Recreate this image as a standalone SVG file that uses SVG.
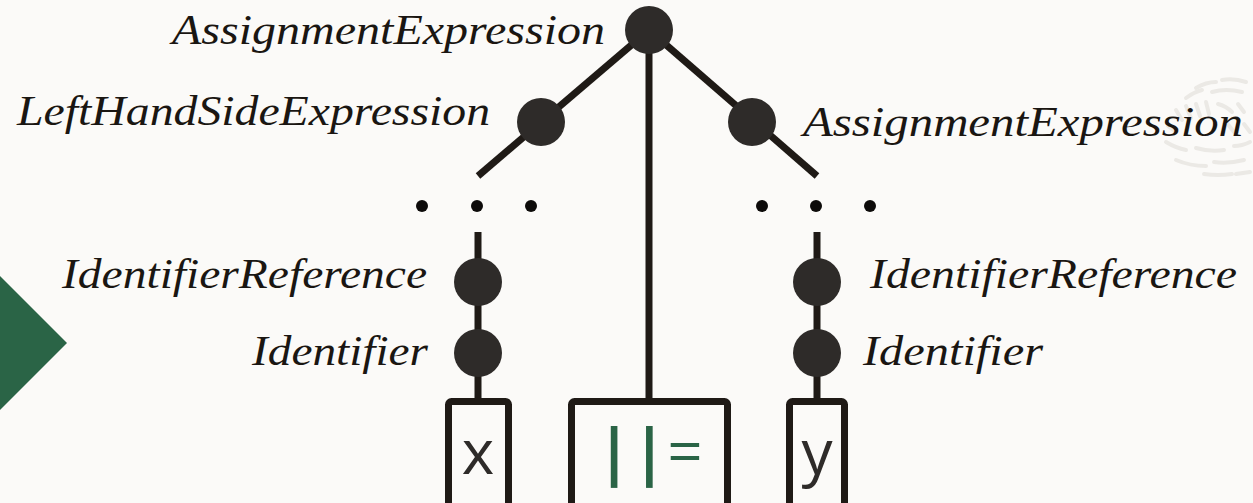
<svg xmlns="http://www.w3.org/2000/svg" width="1253" height="503" viewBox="0 0 1253 503">
  <style>
    .edge { stroke: #1f1a16; stroke-width: 7; fill: none; }
    .node { fill: #2e2b29; }
    .dot { fill: #0d0b0a; }
    .lbl { font-family: "Liberation Serif", "DejaVu Serif", serif; font-style: italic; font-size: 43px; fill: #1a1612; }
    .box { fill: none; stroke: #1f1a16; stroke-width: 7; }
    .tok { font-family: "Open Sans", "Liberation Sans", sans-serif; font-size: 62px; fill: #2e2b29; }
    .grn { fill: #2a6446; }
    .deco { stroke: #ebe9e5; stroke-width: 4; stroke-linecap: round; fill: none; }
  </style>
  <rect width="1253" height="503" fill="#fbfaf8"/>
  <g id="decoration">
    <polygon class="grn" points="0,276 67,343 0,410"/>
    <g class="deco">
      <path d="M1196,88 q10,-6 20,-6"/>
      <path d="M1222,80 q12,-2 24,2"/>
      <path d="M1186,98 q8,-6 16,-8"/>
      <path d="M1212,92 q14,-4 30,0"/>
      <path d="M1176,110 l6,10"/>
      <path d="M1186,106 l5,12"/>
      <path d="M1196,104 l4,12"/>
      <path d="M1206,102 l3,12"/>
      <path d="M1218,104 q8,2 14,8"/>
      <path d="M1238,104 l6,8"/>
      <path d="M1168,126 l8,6"/>
      <path d="M1226,122 l8,10"/>
      <path d="M1244,124 l6,8"/>
      <path d="M1166,142 q10,6 20,8"/>
      <path d="M1196,148 q14,4 28,2"/>
      <path d="M1234,146 q8,0 16,-4"/>
      <path d="M1176,160 q14,6 30,6"/>
      <path d="M1214,162 q14,2 30,-2"/>
      <path d="M1204,174 q14,2 28,0"/>
      <path d="M1236,174 l14,-2"/>
    </g>
  </g>
  <g id="connectors">
    <line class="edge" x1="649" y1="30" x2="478" y2="176"/>
    <line class="edge" x1="649" y1="30" x2="817" y2="176"/>
    <line class="edge" x1="649" y1="30" x2="649" y2="400"/>
    <line class="edge" x1="478" y1="232" x2="478" y2="400"/>
    <line class="edge" x1="817" y1="232" x2="817" y2="400"/>
  </g>
  <g id="ellipsis-left">
    <circle class="dot" cx="422" cy="206" r="6"/>
    <circle class="dot" cx="477" cy="206" r="6"/>
    <circle class="dot" cx="531" cy="206" r="6"/>
  </g>
  <g id="ellipsis-right">
    <circle class="dot" cx="762" cy="206" r="6"/>
    <circle class="dot" cx="816" cy="206" r="6"/>
    <circle class="dot" cx="870" cy="206" r="6"/>
  </g>
  <g id="node-assign-root">
    <circle class="node" cx="649" cy="30" r="24"/>
    <text class="lbl" x="172" y="44" textLength="433" lengthAdjust="spacingAndGlyphs">AssignmentExpression</text>
  </g>
  <g id="node-lhs">
    <circle class="node" cx="541" cy="122" r="24"/>
    <text class="lbl" x="17" y="125" textLength="473" lengthAdjust="spacingAndGlyphs">LeftHandSideExpression</text>
  </g>
  <g id="node-assign-right">
    <circle class="node" cx="752" cy="122" r="24"/>
    <text class="lbl" x="803" y="136" textLength="440" lengthAdjust="spacingAndGlyphs">AssignmentExpression</text>
  </g>
  <g id="node-idref-left">
    <circle class="node" cx="478" cy="282" r="24"/>
    <text class="lbl" x="62" y="288" textLength="365" lengthAdjust="spacingAndGlyphs">IdentifierReference</text>
  </g>
  <g id="node-id-left">
    <circle class="node" cx="478" cy="353" r="24"/>
    <text class="lbl" x="252" y="365" textLength="176" lengthAdjust="spacingAndGlyphs">Identifier</text>
  </g>
  <g id="node-idref-right">
    <circle class="node" cx="817" cy="282" r="24"/>
    <text class="lbl" x="870" y="288" textLength="367" lengthAdjust="spacingAndGlyphs">IdentifierReference</text>
  </g>
  <g id="node-id-right">
    <circle class="node" cx="817" cy="353" r="24"/>
    <text class="lbl" x="863" y="365" textLength="180" lengthAdjust="spacingAndGlyphs">Identifier</text>
  </g>
  <g id="token-x">
    <rect class="box" x="448.5" y="401.5" width="60" height="120" rx="3"/>
    <text class="tok" x="478" y="474" text-anchor="middle">x</text>
  </g>
  <g id="token-op">
    <rect class="box" x="571.5" y="401.5" width="156" height="120" rx="3"/>
    <text class="tok grn" x="597" y="474" letter-spacing="1"><tspan font-weight="bold">||</tspan>=</text>
  </g>
  <g id="token-y">
    <rect class="box" x="789.5" y="401.5" width="55" height="120" rx="3"/>
    <text class="tok" x="817" y="474" text-anchor="middle">y</text>
  </g>
</svg>
